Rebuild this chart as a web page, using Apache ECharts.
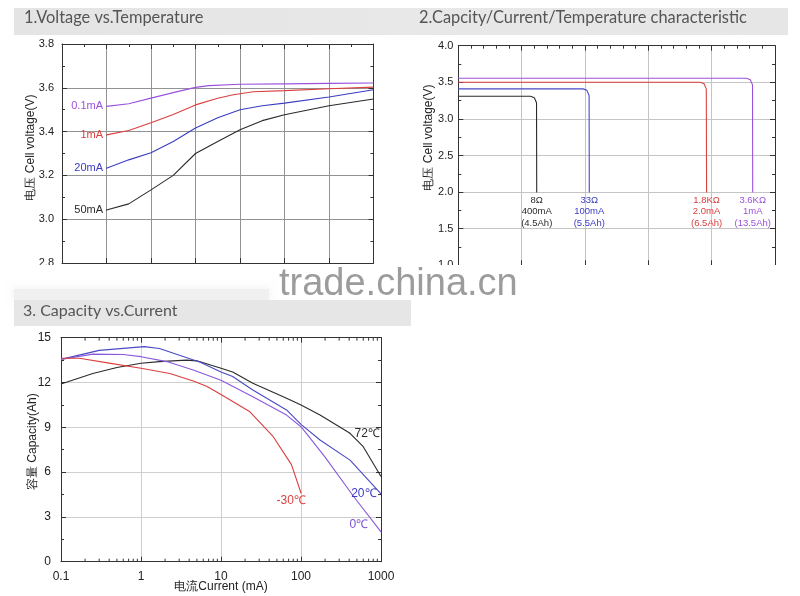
<!DOCTYPE html>
<html><head><meta charset="utf-8">
<script src="https://cdn.jsdelivr.net/npm/echarts@6/dist/echarts.min.js"></script>
<style>html,body{margin:0;padding:0;background:#fff}#c{width:800px;height:596px}</style>
</head><body><div id="c"></div><script>
// ---------- Chart 1: Voltage vs. Temperature ----------
const vt01 = [[1,3.515],[1.5,3.527],[2,3.553],[2.5,3.578],[3,3.602],[3.3,3.610],[4,3.616],[5,3.618],[6,3.620],[7,3.622]];
const vt1  = [[1,3.385],[1.5,3.405],[2,3.440],[2.5,3.478],[3,3.522],[3.5,3.552],[3.85,3.568],[4.3,3.582],[5,3.587],[6,3.596],[7,3.603]];
const vt20 = [[1,3.233],[1.5,3.271],[2,3.303],[2.5,3.355],[3,3.416],[3.5,3.463],[4,3.500],[4.5,3.518],[5,3.530],[6,3.558],[7,3.591]];
const vt50 = [[1,3.042],[1.5,3.070],[2,3.134],[2.5,3.200],[3,3.300],[3.5,3.355],[4,3.408],[4.5,3.450],[5,3.477],[6,3.518],[7,3.549]];
const vtNames = ['0.1mA','1mA','20mA','50mA'];
const vtTicks = [2.8,3.8,0.2];

// ---------- Chart 2: Capacity/Current/Temperature ----------
const dc8    = [[0,3.31],[1.14,3.31],[1.2,3.29],[1.235,3.22],[1.238,2.0]];
const dc33   = [[0,3.41],[1.97,3.41],[2.03,3.39],[2.065,3.32],[2.068,2.0]];
const dc1k8  = [[0,3.50],[3.82,3.50],[3.88,3.48],[3.915,3.41],[3.92,2.0]];
const dc3k6  = [[0,3.555],[4.55,3.555],[4.61,3.535],[4.645,3.465],[4.648,2.0]];
const dcLabels = [['8Ω','400mA','(4.5Ah)'],['33Ω','100mA','(5.5Ah)'],['1.8KΩ','2.0mA','(6.5Ah)'],['3.6KΩ','1mA','(13.5Ah)']];

// ---------- Chart 3: Capacity vs. Current ----------
const cc72  = [[0.1,11.9],[0.25,12.6],[0.5,13.0],[1,13.29],[1.7,13.4],[3.7,13.5],[5,13.45],[10,12.95],[14,12.7],[25,11.95],[66,10.94],[100,10.49],[173,9.82],[410,8.6],[600,7.7],[1000,5.7]];
const cc20  = [[0.1,13.55],[0.3,14.15],[1.1,14.4],[1.7,14.28],[5.5,13.35],[10,12.7],[14,12.4],[25,11.5],[66,10.16],[100,9.2],[173,8.15],[410,6.8],[1000,4.55]];
const cc0   = [[0.1,13.55],[0.25,13.9],[0.6,13.88],[1,13.73],[2.1,13.4],[4.5,12.84],[10,12.15],[25,11.05],[66,9.82],[100,9.04],[200,7.0],[450,4.4],[1000,2.0]];
const ccM30 = [[0.1,13.62],[0.17,13.62],[0.4,13.3],[1,12.95],[2.3,12.6],[4.5,12.1],[6.6,11.75],[10,11.2],[23,10.04],[45,8.37],[76,6.5],[100,4.6]];
const ccNames = ['72℃','20℃','0℃','-30℃'];
const logMinor = [0.2,0.3,0.4,0.5,0.6,0.7,0.8,0.9,2,3,4,5,6,7,8,9,20,30,40,50,60,70,80,90,200,300,400,500,600,700,800,900];

const titles = ['1.Voltage vs.Temperature','2.Capcity/Current/Temperature characteristic','3. Capacity vs.Current'];

const C = {black:'#2b2b2b', red:'#d9403f', blue:'#3c3cc0', purple:'#9a52dc'};
const F = "'Liberation Sans', Arial, sans-serif";

function frameAxis(gi, type, extra){
  return Object.assign({
    gridIndex: gi, type: type,
    axisLine:{show:true, onZero:false, lineStyle:{color:'#333', width:1}},
    axisTick:{show:true, inside:true, length:5, lineStyle:{color:'#333'}},
    minorTick:{show:true, length:3, splitNumber:2, lineStyle:{color:'#333'}},
    axisLabel:{show:false},
    splitLine:{show:false},
    nameMoveOverlap:false
  }, extra);
}
const grid1Split = {show:true, lineStyle:{color:'#939393', width:1}};
const grid2Split = {show:true, lineStyle:{color:'#c4c4c4', width:1}};
const grid3Split = {show:true, lineStyle:{color:'#cfcfcf', width:1}};
const lbl = {show:true, color:'#222', fontSize:11, fontFamily:F};

function lineS(data, color, xi, yi){
  return {type:'line', data:data, xAxisIndex:xi, yAxisIndex:yi,
    symbol:'circle', symbolSize:0, showSymbol:true, showAllSymbol:true, silent:true,
    label:{show:false}, labelLayout:{hideOverlap:false},
    lineStyle:{color:color, width:1.1}, itemStyle:{color:color}, animation:false};
}
function labeled(p, lab){ return {value:p, symbolSize:1, label:Object.assign({show:true, fontFamily:F}, lab)}; }
function startLabel(data, name, color){
  return data.map((p,i)=> i===0 ? labeled(p, {position:'left', distance:3, formatter:name, color:color, fontSize:11}) : p);
}
function dcLabel(data, lines, color){
  return data.map((p,i)=> i===data.length-1 ? labeled(p, {position:'bottom', distance:2, formatter:lines.join('\n'), color:color, fontSize:9.5, lineHeight:11.5, align:'center'}) : p);
}
function ccLabel(data, idx, name, color, pos, dist){
  return data.map((p,i)=> i===idx ? labeled(p, {position:pos, distance:dist, formatter:name, color:color, fontSize:12}) : p);
}

const option = {
  backgroundColor:'#fff',
  animation:false,
  grid:[
    {left:62, top:44, width:311.5, height:219},
    {left:458.3, top:45.7, width:316.7, height:219.6},
    {left:61, top:337.7, width:320, height:224}
  ],
  xAxis:[
    frameAxis(0,'value',{min:0,max:7,interval:1,position:'bottom',splitLine:grid1Split, minorTick:{show:false}}),
    frameAxis(0,'value',{min:0,max:7,interval:1,position:'top'}),
    frameAxis(1,'value',{min:0,max:5,interval:1,position:'bottom',splitLine:grid2Split, minorTick:{show:false}}),
    frameAxis(1,'value',{min:0,max:5,interval:1,position:'top', minorTick:{show:true,length:3,splitNumber:5,lineStyle:{color:'#333'}}}),
    frameAxis(2,'log',{min:0.1,max:1000,logBase:10,position:'bottom',splitLine:grid3Split, minorTick:{show:false},
      axisLabel:Object.assign({}, lbl, {fontSize:12, margin:9, formatter:v=>String(+v.toPrecision(3))}),
      name:'电流Current (mA)', nameLocation:'middle', nameGap:19,
      nameTextStyle:{color:'#222', fontSize:12, fontFamily:F}}),
    frameAxis(2,'log',{min:0.1,max:1000,logBase:10,position:'top', minorTick:{show:false}})
  ],
  yAxis:[
    frameAxis(0,'value',{min:vtTicks[0],max:vtTicks[1],interval:vtTicks[2],position:'left',splitLine:grid1Split,
      axisLabel:Object.assign({}, lbl, {margin:8, formatter:v=>v.toFixed(1)}),
      name:'电压 Cell voltage(V)', nameLocation:'middle', nameGap:25,
      nameTextStyle:{color:'#222', fontSize:12, fontFamily:F, padding:[0,0,0,12]}}),
    frameAxis(0,'value',{min:vtTicks[0],max:vtTicks[1],interval:vtTicks[2],position:'right'}),
    frameAxis(1,'value',{min:1.0,max:4.0,interval:0.5,position:'left',splitLine:grid2Split,
      axisLabel:Object.assign({}, lbl, {margin:5, formatter:v=>v.toFixed(1)}),
      name:'电压 Cell voltage(V)', nameLocation:'middle', nameGap:24,
      nameTextStyle:{color:'#222', fontSize:12, fontFamily:F, padding:[0,0,0,36]}}),
    frameAxis(1,'value',{min:1.0,max:4.0,interval:0.5,position:'right'}),
    frameAxis(2,'value',{min:0,max:15,interval:3,position:'left',splitLine:grid3Split,
      axisLabel:Object.assign({}, lbl, {fontSize:12, margin:10}),
      name:'容量 Capacity(Ah)', nameLocation:'middle', nameGap:22,
      nameTextStyle:{color:'#222', fontSize:12, fontFamily:F, padding:[0,0,0,16]}}),
    frameAxis(2,'value',{min:0,max:15,interval:3,position:'right'})
  ],
  series:[
    lineS(startLabel(vt01, vtNames[0], C.purple), C.purple, 0, 0),
    lineS(startLabel(vt1, vtNames[1], C.red), C.red, 0, 0),
    lineS(startLabel(vt20, vtNames[2], C.blue), C.blue, 0, 0),
    lineS(startLabel(vt50, vtNames[3], C.black), C.black, 0, 0),

    lineS(dcLabel(dc8, dcLabels[0], C.black), C.black, 2, 2),
    lineS(dcLabel(dc33, dcLabels[1], C.blue), '#4848c8', 2, 2),
    lineS(dcLabel(dc1k8, dcLabels[2], C.red), C.red, 2, 2),
    lineS(dcLabel(dc3k6, dcLabels[3], C.purple), C.purple, 2, 2),

    lineS(ccLabel(cc72, 13, ccNames[0], C.black, 'right', 4), C.black, 4, 4),
    lineS(ccLabel(cc20, cc20.length-1, ccNames[1], C.blue, 'left', 4), '#4a4ac4', 4, 4),
    lineS(ccLabel(cc0, cc0.length-1, ccNames[2], '#7a4fd0', [-31,-13], 0), '#8a58dc', 4, 4),
    lineS(ccLabel(ccM30, ccM30.length-1, ccNames[3], C.red, [-24,2], 0), C.red, 4, 4),
    {
      type:'custom', xAxisIndex:4, yAxisIndex:4, silent:true, animation:false,
      data: logMinor,
      renderItem:function(params, api){
        const v = api.value(0);
        const b = api.coord([v,0]);
        const t = api.coord([v,15]);
        return {type:'group', children:[
          {type:'line', shape:{x1:b[0],y1:b[1],x2:b[0],y2:b[1]-3}, style:{stroke:'#333',lineWidth:1}},
          {type:'line', shape:{x1:t[0],y1:t[1],x2:t[0],y2:t[1]+3}, style:{stroke:'#333',lineWidth:1}}
        ]};
      }
    }
  ],
  graphic:[
    {type:'rect', z:100, shape:{x:0,y:265,width:800,height:36}, style:{fill:'#fff'}},
    {type:'rect', z:101, shape:{x:14,y:289,width:255,height:11}, style:{fill:'#f0f0f0', shadowBlur:8, shadowColor:'#eeeeee'}},
    {type:'rect', z:101, shape:{x:14,y:300,width:397,height:26}, style:{fill:'#e6e6e6'}},
    {type:'rect', z:-10, shape:{x:14,y:8,width:774,height:27}, style:{fill:new echarts.graphic.LinearGradient(0,0,1,0,[{offset:0,color:'#e4e4e4'},{offset:0.5,color:'#e8e8e8'},{offset:1,color:'#e6e6e6'}])}},
    {type:'text', z:102, left:24, top:10, style:{text:titles[0], fill:'#555', font:'16.4px Lato, sans-serif'}},
    {type:'text', z:102, left:419, top:10, style:{text:titles[1], fill:'#555', font:'16.4px Lato, sans-serif'}},
    {type:'text', z:102, left:23, top:303, style:{text:titles[2], fill:'#555', font:'16px Lato, sans-serif'}},
    {type:'text', z:103, left:279, top:266, style:{text:'trade.china.cn', fill:'#9c9c9c', font:'38px "Liberation Sans Narrow", "Liberation Sans", sans-serif'}}
  ]
};
const chart = echarts.init(document.getElementById('c'), null, {renderer:'canvas'});
chart.setOption(option);
</script></body></html>
